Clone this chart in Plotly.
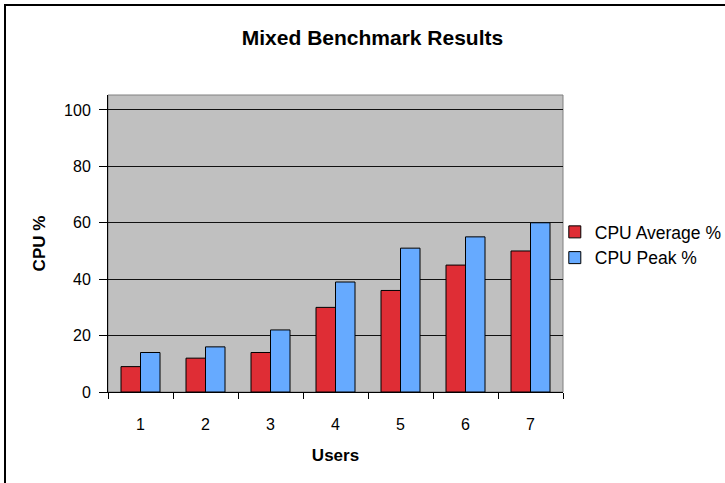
import plotly.graph_objects as go

users = ["1", "2", "3", "4", "5", "6", "7"]
cpu_avg = [9, 12, 14, 30, 36, 45, 50]
cpu_peak = [14, 16, 22, 39, 51, 55, 60]
y_ticks = [0, 20, 40, 60, 80, 100]

fig = go.Figure()
fig.add_trace(go.Bar(x=users, y=cpu_avg, name="CPU Average %",
                     marker=dict(color="#DF2D35", line=dict(color="black", width=1))))
fig.add_trace(go.Bar(x=users, y=cpu_peak, name="CPU Peak %",
                     marker=dict(color="#66AAFF", line=dict(color="black", width=1))))

fig.update_layout(
    width=725, height=483,
    margin=dict(l=108, r=162, t=95, b=91, autoexpand=False),
    paper_bgcolor="white",
    plot_bgcolor="#C0C0C0",
    font=dict(family="Liberation Sans, Arial", size=16, color="black"),
    title=dict(text="<b>Mixed Benchmark Results</b>", x=372.5 / 725, xanchor="center",
               y=1 - 37.5 / 483, yanchor="middle", font=dict(size=21)),
    barmode="group", bargap=0.4, bargroupgap=0,
    showlegend=True,
    legend=dict(x=0.982, xanchor="left", y=0.495, yanchor="middle",
                font=dict(size=17.5), bgcolor="rgba(0,0,0,0)",
                itemwidth=30),
    xaxis=dict(title=dict(text="<b>Users</b>", font=dict(size=17), standoff=16),
               showline=True, linecolor="black", linewidth=1, automargin=False,
               ticks="outside", ticklen=6, tickcolor="black", tickson="boundaries",
               showgrid=False, mirror=False, ticklabelstandoff=18),
    yaxis=dict(title=dict(text="<b>CPU %</b>", font=dict(size=17), standoff=14),
               range=[0, 105.3], tickvals=y_ticks, automargin=False,
               showline=True, linecolor="black", linewidth=1,
               ticks="outside", ticklen=8, tickcolor="black", ticklabelstandoff=5,
               showgrid=True, gridcolor="#111111", gridwidth=1,
               zeroline=False),
    shapes=[dict(type="rect", xref="paper", yref="paper",
                 x0=-103 / 455, x1=1 + 170 / 455, y0=-100 / 297, y1=1 + 90 / 297,
                 line=dict(color="black", width=2), fillcolor="rgba(0,0,0,0)"),
            dict(type="rect", xref="paper", yref="paper", x0=0, x1=1, y0=0, y1=1,
                 line=dict(color="#808080", width=1), fillcolor="rgba(0,0,0,0)", layer="below")],
)

fig.write_html("out.html", config={"displayModeBar": False},
               post_script="document.body.style.margin='0';")
